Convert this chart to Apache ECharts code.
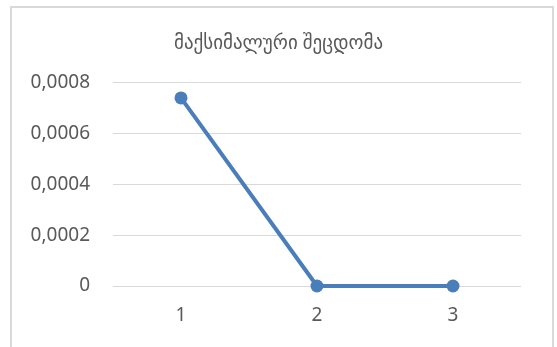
<!DOCTYPE html>
<html>
<head>
<meta charset="utf-8">
<script src="https://cdn.jsdelivr.net/npm/echarts@6/dist/echarts.min.js"></script>
<style>
html,body{margin:0;padding:0;background:#fff;}
#c{width:557px;height:347px;}
</style>
</head>
<body>
<div id="c"></div>
<script>
// Chart data
const titleText = 'მაქსიმალური შეცდომა';
const categories = ['1', '2', '3'];
const maxErrors = [0.00074, 0, 0];
const yTicks = [0, 0.0002, 0.0004, 0.0006, 0.0008];

const chart = echarts.init(document.getElementById('c'));
const font = '"Noto Sans", "DejaVu Sans", sans-serif';

chart.setOption({
  animation: false,
  backgroundColor: '#fff',
  graphic: [{
    type: 'rect',
    shape: { x: 11, y: 7, width: 542, height: 360 },
    style: { fill: 'none', stroke: '#d9d9d9', lineWidth: 2 },
    silent: true
  }],
  title: {
    text: titleText,
    left: 'center',
    top: 29,
    textStyle: { fontFamily: font, fontSize: 19, fontWeight: 'normal', color: '#595959' }
  },
  grid: { left: 113, right: 36, top: 82.7, bottom: 61 },
  xAxis: {
    type: 'category',
    data: categories,
    boundaryGap: true,
    axisLine: { show: false },
    axisTick: { show: false },
    axisLabel: { fontFamily: font, fontSize: 19, color: '#595959', margin: 20 }
  },
  yAxis: {
    type: 'value',
    min: yTicks[0],
    max: yTicks[yTicks.length - 1],
    interval: yTicks[1] - yTicks[0],
    axisLine: { show: false },
    axisTick: { show: false },
    splitLine: { lineStyle: { color: '#d9d9d9', width: 1 } },
    axisLabel: {
      fontFamily: font, fontSize: 19, color: '#595959', margin: 23,
      formatter: v => v === 0 ? '0' : v.toFixed(4).replace('.', ',')
    }
  },
  series: [{
    type: 'line',
    data: maxErrors,
    symbol: 'circle',
    symbolSize: 13,
    lineStyle: { color: '#4a7ebb', width: 4 },
    itemStyle: { color: '#4a7ebb' }
  }]
});
</script>
</body>
</html>
